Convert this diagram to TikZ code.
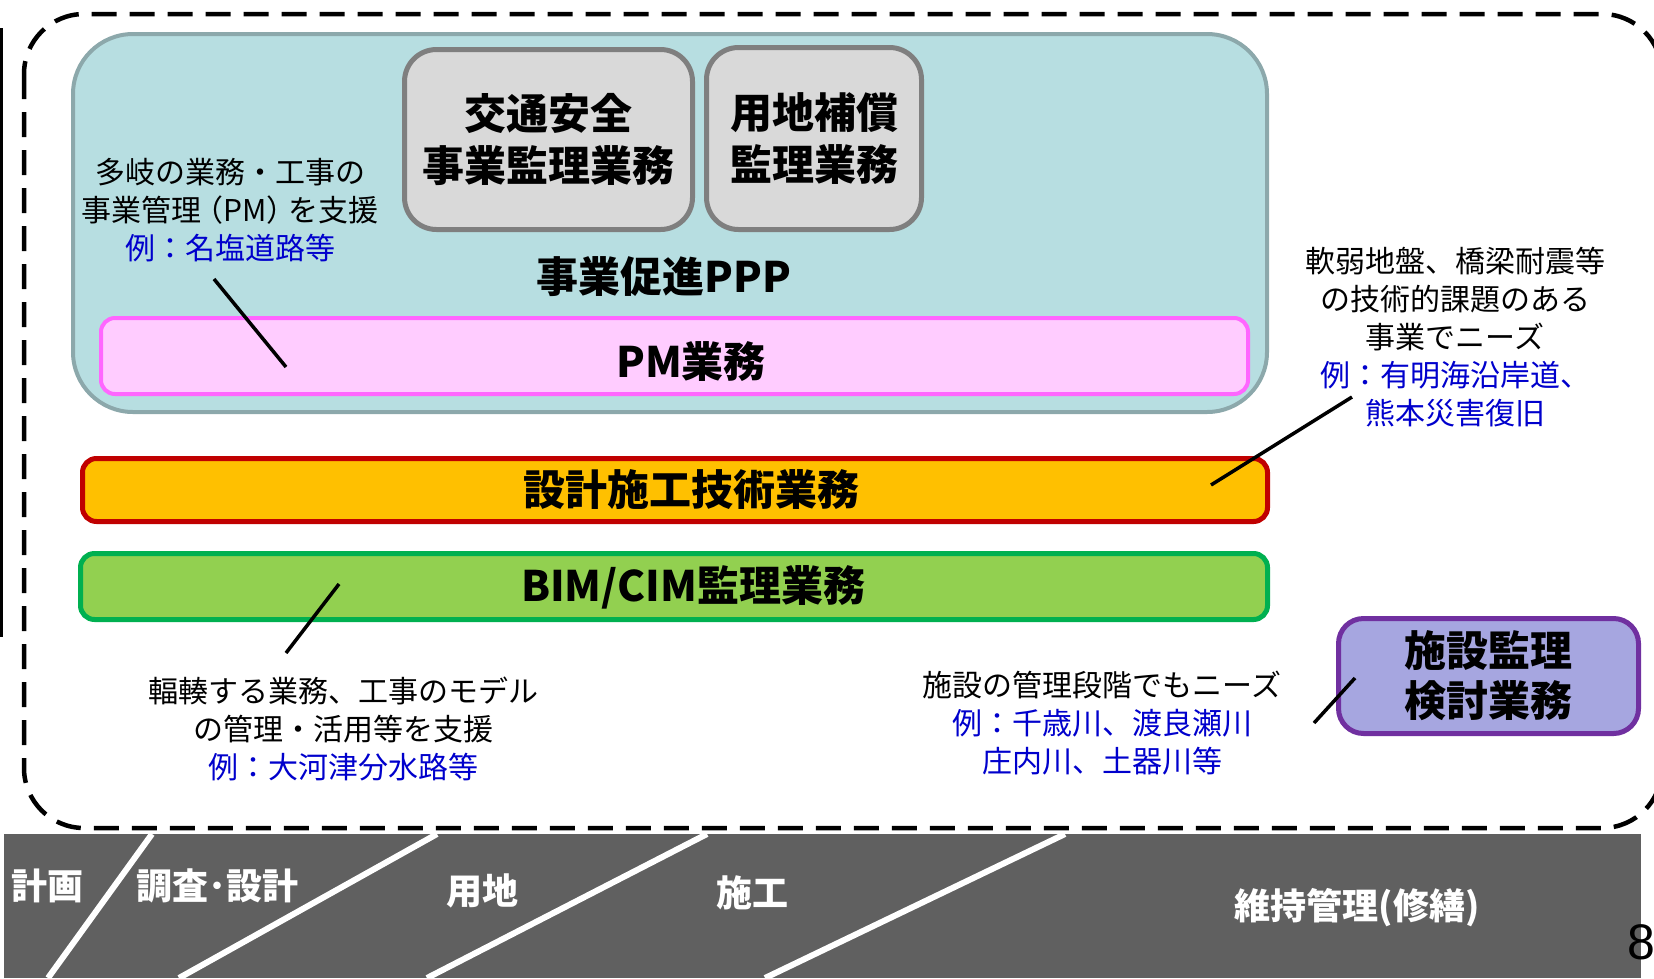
\documentclass[tikz,border=0pt]{standalone}
\usepackage{fontspec}
\setmainfont{Noto Sans CJK JP}
\newfontfamily\numfont{Liberation Sans}
\definecolor{tealF}{RGB}{183,222,225}
\definecolor{tealB}{RGB}{140,168,171}
\definecolor{grayF}{RGB}{217,217,217}
\definecolor{grayB}{RGB}{127,127,127}
\definecolor{pmF}{RGB}{255,204,255}
\definecolor{pmB}{RGB}{255,102,255}
\definecolor{orF}{RGB}{255,192,0}
\definecolor{orB}{RGB}{192,0,0}
\definecolor{grF}{RGB}{146,208,80}
\definecolor{grB}{RGB}{0,176,80}
\definecolor{puF}{RGB}{166,166,224}
\definecolor{puB}{RGB}{112,48,160}
\definecolor{bandC}{RGB}{96,96,96}
\definecolor{noteblue}{RGB}{0,0,204}
\tikzset{
  tealbox/.style={draw=tealB, fill=tealF, line width=4pt, rounded corners=60pt, inner sep=0pt},
  graybox/.style={draw=grayB, fill=grayF, line width=5pt, rounded corners=32pt, inner sep=0pt,
    align=center, font=\fontsize{42}{52}\selectfont\bfseries},
  pmbox/.style={draw=pmB, fill=pmF, line width=4pt, rounded corners=14pt, inner sep=0pt},
  orbox/.style={draw=orB, fill=orF, line width=5pt, rounded corners=14pt, inner sep=0pt},
  grbox/.style={draw=grB, fill=grF, line width=5pt, rounded corners=14pt, inner sep=0pt},
  pubox/.style={draw=puB, fill=puF, line width=5pt, rounded corners=25pt, inner sep=0pt,
    align=center, font=\fontsize{42}{50}\selectfont\bfseries},
  bigtxt/.style={inner sep=0pt, font=\fontsize{42}{50}\selectfont\bfseries},
  note/.style={inner sep=0pt, align=center, font=\fontsize{30}{38}\selectfont},
  phase/.style={inner sep=0pt, text=white, font=\fontsize{36}{40}\selectfont\bfseries},
  leader/.style={draw=black, line width=3.5pt},
  divider/.style={draw=white, line width=6pt},
  outline/.style={draw=black, line width=4.5pt, dash pattern=on 25pt off 13pt, rounded corners=60pt},
}
\begin{document}
\begin{tikzpicture}[x=1pt,y=-1pt]
\useasboundingbox (0,0) rectangle (1654,978);
% left edge line
\coordinate (vtop) at (1.5,28);
\coordinate (vbot) at (1.5,637);
\draw[line width=2.5pt] (vtop) -- (vbot);
% PPP container
\node[tealbox, minimum width=1194pt, minimum height=378pt] (ppp) at (670,223) {};
\node[graybox, minimum width=288pt, minimum height=180pt] (kotsu) at (548.5,139.5) {交通安全\\事業監理業務};
\node[graybox, minimum width=215pt, minimum height=182pt] (yochi) at (814,138.5) {用地補償\\監理業務};
\node[bigtxt] (ppptext) at (664,277) {事業促進PPP};
\node[pmbox, minimum width=1147pt, minimum height=76pt] (pm) at (674.5,356) {};
\node[bigtxt] (pmtext) at (691,362) {PM業務};
% other bars
\node[orbox, minimum width=1185pt, minimum height=63pt] (sekkei) at (675,490) {};
\node[bigtxt] (sekkeitext) at (691,490) {設計施工技術業務};
\node[grbox, minimum width=1187pt, minimum height=66pt] (bim) at (674,586.5) {};
\node[bigtxt] (bimtext) at (693,587) {BIM/CIM監理業務};
\node[pubox, minimum width=300pt, minimum height=115pt] (shisetsu) at (1488.5,676) {施設監理\\検討業務};
% annotations
\node[note] (n1) at (230,210) {多岐の業務・工事の\\事業管理\kern-8pt（PM）\kern-8pt を支援\\\textcolor{noteblue}{例：名塩道路等}};
\node[note] (n2) at (1455,337) {軟弱地盤、橋梁耐震等\\の技術的課題のある\\事業でニーズ\\\textcolor{noteblue}{例：有明海沿岸道、}\\\textcolor{noteblue}{熊本災害復旧}};
\node[note] (n3) at (343,729) {輻輳する業務、工事のモデル\\の管理・活用等を支援\\\textcolor{noteblue}{例：大河津分水路等}};
\node[note] (n4) at (1102,723) {施設の管理段階でもニーズ\\\textcolor{noteblue}{例：千歳川、渡良瀬川}\\\textcolor{noteblue}{庄内川、土器川等}};
% leader lines
\coordinate (a1) at (214,279);
\coordinate (b1) at (286,367);
\coordinate (a2) at (1352,397);
\coordinate (b2) at (1211,485);
\coordinate (a3) at (286,653);
\coordinate (b3) at (339,584);
\coordinate (a4) at (1314,723);
\coordinate (b4) at (1355,678);
\draw[leader] (a1) -- (b1);
\draw[leader] (a2) -- (b2);
\draw[leader] (a3) -- (b3);
\draw[leader] (a4) -- (b4);
% dashed outline
\draw[outline] (24,14) rectangle (1662,828);
% phase band
\fill[bandC] (4,834) rectangle (1641,978);
\coordinate (d1t) at (152,834); \coordinate (d1b) at (48,978);
\coordinate (d2t) at (437,834); \coordinate (d2b) at (179,978);
\coordinate (d3t) at (707,834); \coordinate (d3b) at (427,978);
\coordinate (d4t) at (1065,834); \coordinate (d4b) at (765,978);
\draw[divider] (d1t) -- (d1b);
\draw[divider] (d2t) -- (d2b);
\draw[divider] (d3t) -- (d3b);
\draw[divider] (d4t) -- (d4b);
\node[phase] (p1) at (47,886) {計画};
\node[phase] (p2) at (217,886) {調査･設計};
\node[phase] (p3) at (482,891) {用地};
\node[phase] (p4) at (752,893) {施工};
\node[phase] (p5) at (1357,908) {維持管理(修繕)};
\node[inner sep=0pt, font=\numfont\fontsize{50}{50}\selectfont] (pg) at (1641,942) {8};
\end{tikzpicture}
\end{document}
